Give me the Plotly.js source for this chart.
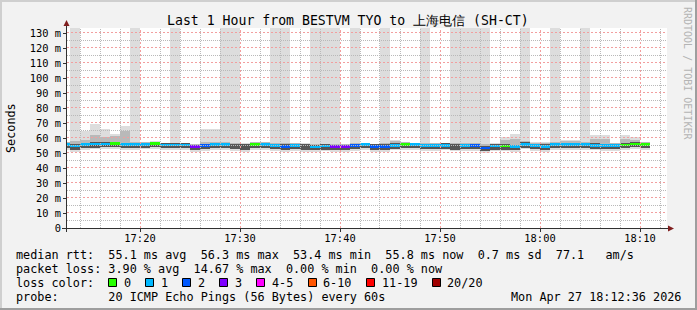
<!DOCTYPE html>
<html><head><meta charset="utf-8">
<script src="https://cdn.plot.ly/plotly-3.0.1.min.js"></script>
<style>
html,body{margin:0;padding:0;background:#f2f2f2;}
#wrap{position:relative;width:697px;height:310px;overflow:hidden;}
#chart{position:absolute;left:0;top:0;width:697px;height:310px;}
.fr{position:absolute;}
</style></head><body>
<div id="wrap"><div id="chart"></div>
<div class="fr" style="left:0;top:0;width:697px;height:2px;background:#cfcfcf"></div>
<div class="fr" style="left:0;top:0;width:2px;height:310px;background:#cfcfcf"></div>
<div class="fr" style="left:0;bottom:0;width:697px;height:2px;background:#9e9e9e"></div>
<div class="fr" style="right:0;top:0;width:2px;height:310px;background:#9e9e9e"></div>
</div>
<script>
const DAY = '2026-04-27 ';
const minutes = ['17:12','17:13','17:14','17:15','17:16','17:17','17:18','17:19','17:20','17:21',
  '17:22','17:23','17:24','17:25','17:26','17:27','17:28','17:29','17:30','17:31',
  '17:32','17:33','17:34','17:35','17:36','17:37','17:38','17:39','17:40','17:41',
  '17:42','17:43','17:44','17:45','17:46','17:47','17:48','17:49','17:50','17:51',
  '17:52','17:53','17:54','17:55','17:56','17:57','17:58','17:59','18:00','18:01',
  '18:02','18:03','18:04','18:05','18:06','18:07','18:08','18:09','18:10'];
const median = [55.8,54.6,55.7,56.0,56.0,56.3,55.8,55.6,55.9,56.2,
  55.4,55.4,55.4,54.2,54.8,55.6,55.6,54.7,54.5,55.9,
  55.7,54.9,54.5,55.0,54.5,54.0,54.6,54.3,54.3,54.8,
  55.5,54.5,54.4,55.2,55.6,55.5,55.0,55.0,55.2,54.6,
  55.0,54.8,53.4,54.6,54.6,54.2,55.9,55.0,54.5,55.6,
  55.7,55.7,55.8,55.2,54.9,54.9,55.4,56.0,55.8];
const lostPings = [1,1,1,1,1,0,1,1,1,0,
  1,1,1,3,2,1,1,null,null,0,
  1,1,2,1,null,1,1,3,3,2,
  1,2,2,1,0,1,1,1,1,null,
  1,2,2,1,0,1,1,1,1,1,
  1,1,1,1,1,1,0,0,0];
const rttMin = [52.3,51.0,52.0,52.4,52.5,52.8,52.2,52.0,52.4,52.6,
  51.9,51.8,51.9,50.8,51.2,52.0,52.1,51.2,51.0,52.3,
  52.2,51.4,51.0,51.5,51.0,50.6,51.1,50.8,50.8,51.3,
  52.0,51.0,50.9,51.7,52.1,52.0,51.5,51.5,51.7,51.1,
  51.5,51.3,50.0,51.1,51.1,50.7,52.4,51.5,51.0,52.1,
  52.2,52.2,52.3,51.7,51.4,51.4,51.9,52.5,52.3];
const rttP25 = [53.5,52.3,53.4,53.6,53.8,54.0,53.5,53.3,53.6,53.9,
  53.1,53.1,53.2,52.0,52.5,53.3,53.3,52.4,52.2,53.6,
  53.4,52.6,52.2,52.7,52.2,51.8,52.3,52.0,52.0,52.5,
  53.2,52.2,52.1,52.9,53.3,53.2,52.7,52.7,52.9,52.3,
  52.7,52.5,51.2,52.3,52.3,51.9,53.6,52.7,52.2,53.3,
  53.4,53.4,53.5,52.9,52.6,52.6,53.1,53.7,53.5];
const rttP75 = [57.0,55.9,57.0,57.3,57.2,57.5,57.0,56.9,57.0,57.4,
  56.6,56.6,56.5,55.4,56.0,56.8,56.9,56.0,55.7,57.0,
  56.9,56.1,55.8,56.2,55.7,55.2,55.8,55.5,55.4,56.0,
  56.7,55.7,55.7,56.4,56.8,56.7,56.2,56.2,56.4,55.9,
  56.2,56.0,54.7,55.8,55.8,55.5,57.1,56.2,55.7,56.8,
  56.9,56.9,57.0,56.5,56.1,56.1,56.6,57.2,57.0];
const rttP90 = [57.5,58.0,58.7,62.0,60.5,61.3,64.7,57.5,57.4,57.6,
  57.0,57.0,56.8,55.8,57.5,57.5,57.4,56.5,56.1,57.3,
  57.2,56.8,56.6,56.5,56.2,56.0,56.3,56.0,55.8,56.8,
  56.9,56.1,56.4,57.8,57.1,57.0,56.9,56.6,56.7,56.7,
  56.8,56.6,55.8,56.2,58.5,59.5,57.8,56.8,56.4,57.4,
  57.8,57.8,57.6,59.5,59.5,56.6,59.5,59.0,57.3];
const rttMax = [57.5,200,64.7,69.3,66.0,62.7,68.0,200,57.5,57.8,
  57.0,200,57.0,56.0,66.0,66.0,200,200,56.5,57.5,
  57.3,200,200,56.8,56.5,200,200,200,56.0,200,
  57.0,56.3,200,59.0,57.2,57.0,200,56.8,56.8,200,
  200,200,200,56.5,60.7,62.7,200,57.5,57.5,200,
  58.7,58.7,200,62.0,62.0,57.0,62.0,61.0,57.5];

const lossLevels = [0,1,2,3,5,10,19,20];
const lossLabels = ['0','1','2','3','4-5','6-10','11-19','20/20'];
const lossColors = ['#26ff00','#00b8ff','#0059ff','#7e00ff','#ff00ff','#ff5500','#ff0000','#a00000'];
const yTicks = [0,10,20,30,40,50,60,70,80,90,100,110,120,130];
const xTickLabels = ['17:20','17:30','17:40','17:50','18:00','18:10'];
const titleText = 'Last 1 Hour from BESTVM TYO to 上海电信 (SH-CT)';
const rttLine = 'median rtt:  55.1 ms avg  56.3 ms max  53.4 ms min  55.8 ms now  0.7 ms sd  77.1   am/s';
const lossLine = 'packet loss: 3.90 % avg  14.67 % max  0.00 % min  0.00 % now';
const probeLine = 'probe:       20 ICMP Echo Pings (56 Bytes) every 60s';
const stampText = 'Mon Apr 27 18:12:36 2026';

const W=697,H=310,L=67,R=667,T=28,B=228;
const YMAX = 133.333;
const X0 = new Date(2026,3,27,17,12,42).getTime(), X1 = new Date(2026,3,27,18,12,42).getTime();
const px = x => (x-L)/(R-L), py = y => (B-y)/(B-T);
const nb = s => s.replace(/ /g,'\u00a0');
const FONT = 'DejaVu Sans Mono';
const CW = 7.115;

const xs = minutes.map(m => DAY + m + ':30');
function colorFor(l){
  if (l === null) return 'rgba(0,0,0,0)';
  for (let i=0;i<lossLevels.length;i++) if (l <= lossLevels[i]) return lossColors[i];
  return lossColors[lossColors.length-1];
}
function bar(lo, hi, color){
  return {type:'bar', x:xs, base:lo, y:hi.map((h,i)=>h-lo[i]), width:60000,
    marker:{color:color, line:{width:0}}, hoverinfo:'skip', showlegend:false};
}
const traces = [
  bar(rttMin, rttMax, '#dddddd'),
  bar(rttP25, rttP90, '#b9b9b9'),
  bar(rttP25, rttP75, '#555555'),
  {type:'bar', x:xs, base:median.map(v=>v-0.9), y:median.map(()=>1.8), width:60000,
   marker:{color:lostPings.map(colorFor), line:{width:0}}, hoverinfo:'skip', showlegend:false}
];

const shapes = [];
const GRID='rgb(185,185,185)', MGRID='rgb(242,158,158)';
function gridLine(isMajor){
  return isMajor ? {color:MGRID, width:1, dash:'2px,2px'} : {color:GRID, width:1, dash:'1px,1px'};
}
for (let v=5; v<=130; v+=5){
  const yc = Math.floor(B - v*(B-T)/YMAX) + 0.5;
  shapes.push({type:'line', layer:'above', xref:'paper', x0:0, x1:1, yref:'paper', y0:py(yc), y1:py(yc),
    line:gridLine(v%10===0)});
}
for (let m=14; m<=72; m+=2){
  const t = new Date(2026,3,27,17,0,0).getTime() + m*60000;
  const xc = Math.floor(L + (t-X0)/(X1-X0)*(R-L)) + 0.5;
  shapes.push({type:'line', layer:'above', yref:'paper', y0:0, y1:1, xref:'paper', x0:px(xc), x1:px(xc),
    line:gridLine(m%10===0)});
}
// axes
shapes.push({type:'line', layer:'above', xref:'paper', yref:'paper', x0:px(62), x1:px(668), y0:py(228.5), y1:py(228.5), line:{color:'#303030', width:1}});
shapes.push({type:'line', layer:'above', xref:'paper', yref:'paper', x0:px(66.5), x1:px(66.5), y0:py(232), y1:py(25), line:{color:'#303030', width:1}});
shapes.push({type:'path', layer:'above', xref:'paper', yref:'paper',
  path:`M${px(66.5)},${py(20)} L${px(63.5)},${py(26)} L${px(69.5)},${py(26)} Z`, fillcolor:'#801f1f', line:{width:0}});
shapes.push({type:'path', layer:'above', xref:'paper', yref:'paper',
  path:`M${px(674)},${py(228.5)} L${px(668)},${py(225.5)} L${px(668)},${py(231.5)} Z`, fillcolor:'#801f1f', line:{width:0}});

const annotations = [];
function ann(text,x,y,opt){
  annotations.push(Object.assign({text:nb(text), xref:'paper', yref:'paper', x:px(x), y:py(y),
    xanchor:'left', yanchor:'middle', showarrow:false, borderpad:0, borderwidth:0,
    font:{family:FONT, size:11.8, color:'#000'}}, opt||{}));
}
ann(titleText, 348, 20.5, {xanchor:'center', font:{family:FONT, size:13.2, color:'#000'}});
ann('Seconds', 11, 128, {xanchor:'center', textangle:-90});
ann('RRDTOOL / TOBI OETIKER', 688, 73, {xanchor:'center', textangle:90, font:{family:FONT, size:10, color:'#b4b4b4'}});
ann(rttLine, 16, 254.5);
ann(lossLine, 16, 268.5);
ann('loss color:', 16, 282.5);
ann(probeLine, 16, 296.5);
ann(stampText, 681, 296.5, {xanchor:'right'});
let p = 13;
lossLabels.forEach((lab,i)=>{
  const bx = Math.round(16 + p*CW) + 0.5;
  shapes.push({type:'rect', layer:'above', xref:'paper', yref:'paper', x0:px(bx), x1:px(bx+8), y0:py(278.5), y1:py(286.5),
    fillcolor:lossColors[i], line:{color:'#000', width:1}});
  const lp = p + 2.2;
  ann(lab, 16 + lp*CW, 282.5);
  p = lp + lab.length + 2;
});

const layout = {
  width:W, height:H, margin:{l:L, r:W-R, t:T, b:H-B, pad:0},
  paper_bgcolor:'#f2f2f2', plot_bgcolor:'#ffffff',
  barmode:'overlay', bargap:0, showlegend:false,
  font:{family:FONT, size:10.4, color:'#000'},
  xaxis:{type:'date', range:[DAY+'17:12:42', DAY+'18:12:42'], tickmode:'array',
    tickvals:xTickLabels.map(t=>DAY+t+':00'), ticktext:xTickLabels,
    ticks:'outside', ticklen:3, tickcolor:'#303030', showgrid:false, zeroline:false, showline:false, fixedrange:true,
    ticklabelstandoff:-2,
    tickfont:{family:FONT, size:10.4, color:'#000'}},
  yaxis:{range:[0,YMAX], tickmode:'array', tickvals:yTicks, ticktext:yTicks.map(v=>v===0?'0':v+' m'),
    ticks:'outside', ticklen:3, tickcolor:'#303030', showgrid:false, zeroline:false, showline:false, fixedrange:true,
    tickfont:{family:FONT, size:10.4, color:'#000'}},
  shapes:shapes, annotations:annotations
};
Plotly.newPlot('chart', traces, layout, {staticPlot:true, displayModeBar:false});
</script></body></html>
